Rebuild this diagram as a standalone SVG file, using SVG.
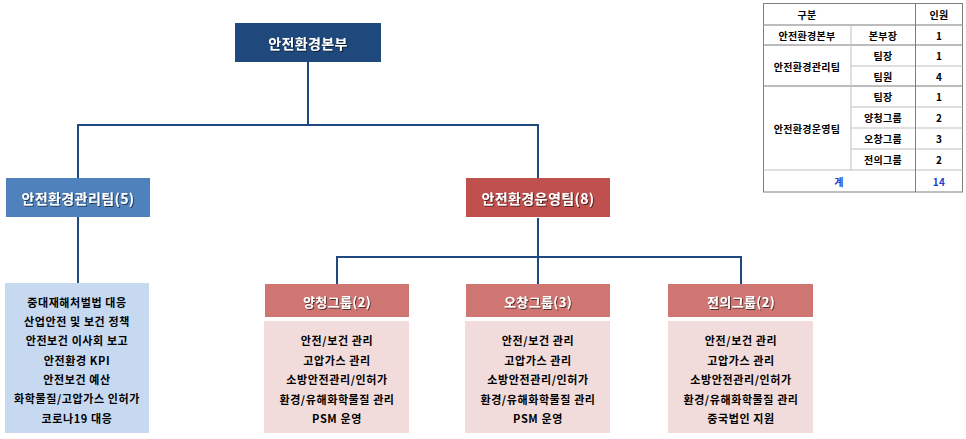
<svg xmlns="http://www.w3.org/2000/svg" width="966" height="439" viewBox="0 0 966 439">
<defs>
<filter id="sh" x="-10%" y="-30%" width="120%" height="160%">
<feDropShadow dx="1" dy="1" stdDeviation="0.4" flood-color="#000" flood-opacity="0.6"/>
</filter>
</defs>
<style>
text{font-family:"Noto Sans CJK KR","Malgun Gothic","Liberation Sans",sans-serif;font-weight:bold;text-anchor:middle;dominant-baseline:central}
.hd{fill:#fff;font-size:14px;letter-spacing:0.4px;filter:url(#sh)}
.gh{fill:#fff;font-size:13px;letter-spacing:0.4px;filter:url(#sh)}
.it{fill:#000;font-size:11px;letter-spacing:0.6px}
.tb{fill:#000;font-size:10px;letter-spacing:0.3px}
.blue{fill:#1F3FCC}
.con{stroke:#1F497D;stroke-width:2;fill:none}
.tl{stroke:#bfbfbf;stroke-width:1}
.tl2{stroke:#a6a6a6;stroke-width:1.5}
</style>
<rect width="966" height="439" fill="#fff"/>
<g id="connectors">
<path class="con" d="M308 62V125M78 125H538M78 124V178M538 124V178"/>
<path class="con" d="M78 217V283"/>
<path class="con" d="M538 218V284M337 257H741M337 256V284M741 256V284"/>
</g>
<g id="hq">
<rect x="235" y="23" width="146" height="39" fill="#1F497D"/>
<text class="hd" x="308" y="43">안전환경본부</text>
</g>
<g id="mgmt">
<rect x="6" y="178" width="144" height="39" fill="#4F81BD"/>
<text class="hd" x="78" y="198">안전환경관리팀(5)</text>
</g>
<g id="ops">
<rect x="466" y="178" width="144" height="39" fill="#C0504D"/>
<text class="hd" x="538" y="198">안전환경운영팀(8)</text>
</g>
<g id="mgmt-tasks">
<rect x="5" y="283" width="144" height="150" fill="#C6D9F1"/>
<text class="it" x="77" y="302">중대재해처벌법 대응</text>
<text class="it" x="77" y="321">산업안전 및 보건 정책</text>
<text class="it" x="77" y="340">안전보건 이사회 보고</text>
<text class="it" x="77" y="360">안전환경 KPI</text>
<text class="it" x="77" y="379">안전보건 예산</text>
<text class="it" x="77" y="398">화학물질/고압가스 인허가</text>
<text class="it" x="77" y="418">코로나19 대응</text>
</g>
<g id="yangcheong">
<rect x="265" y="284" width="144" height="33" fill="#CF7572"/>
<text class="gh" x="337" y="301">양청그룹(2)</text>
<rect x="264" y="321" width="145" height="112" fill="#F2DCDB"/>
<text class="it" x="337" y="340">안전/보건 관리</text>
<text class="it" x="337" y="359.5">고압가스 관리</text>
<text class="it" x="337" y="379">소방안전관리/인허가</text>
<text class="it" x="337" y="398.5">환경/유해화학물질 관리</text>
<text class="it" x="337" y="418">PSM 운영</text>
</g>
<g id="ochang">
<rect x="466" y="284" width="144" height="33" fill="#CF7572"/>
<text class="gh" x="538" y="301">오창그룹(3)</text>
<rect x="465" y="321" width="145" height="112" fill="#F2DCDB"/>
<text class="it" x="538" y="340">안전/보건 관리</text>
<text class="it" x="538" y="359.5">고압가스 관리</text>
<text class="it" x="538" y="379">소방안전관리/인허가</text>
<text class="it" x="538" y="398.5">환경/유해화학물질 관리</text>
<text class="it" x="538" y="418">PSM 운영</text>
</g>
<g id="jeonui">
<rect x="668" y="284" width="145" height="33" fill="#CF7572"/>
<text class="gh" x="741" y="301">전의그룹(2)</text>
<rect x="668" y="321" width="145" height="112" fill="#F2DCDB"/>
<text class="it" x="741" y="340">안전/보건 관리</text>
<text class="it" x="741" y="359.5">고압가스 관리</text>
<text class="it" x="741" y="379">소방안전관리/인허가</text>
<text class="it" x="741" y="398.5">환경/유해화학물질 관리</text>
<text class="it" x="741" y="418">중국법인 지원</text>
</g>
<g id="table">
<rect x="763.5" y="3.5" width="199" height="188.5" fill="#fff" stroke="#7f7f7f" stroke-width="1"/>
<line class="tl2" x1="763.5" y1="25" x2="962.5" y2="25"/>
<line class="tl2" x1="763.5" y1="45" x2="962.5" y2="45"/>
<line class="tl" x1="851" y1="66" x2="962.5" y2="66"/>
<line class="tl2" x1="763.5" y1="86" x2="962.5" y2="86"/>
<line class="tl" x1="851" y1="107" x2="962.5" y2="107"/>
<line class="tl" x1="851" y1="128" x2="962.5" y2="128"/>
<line class="tl" x1="851" y1="149" x2="962.5" y2="149"/>
<line class="tl" x1="763.5" y1="170" x2="962.5" y2="170"/>
<line class="tl" x1="851" y1="25" x2="851" y2="170"/>
<line stroke="#7f7f7f" stroke-width="1" x1="915.5" y1="3.5" x2="915.5" y2="192"/>
<text class="tb" x="807" y="14">구분</text>
<text class="tb" x="939" y="14">인원</text>
<text class="tb" x="807" y="35">안전환경본부</text>
<text class="tb" x="883" y="35">본부장</text>
<text class="tb" x="939" y="35">1</text>
<text class="tb" x="807" y="66">안전환경관리팀</text>
<text class="tb" x="883" y="55.5">팀장</text>
<text class="tb" x="939" y="55.5">1</text>
<text class="tb" x="883" y="76">팀원</text>
<text class="tb" x="939" y="76">4</text>
<text class="tb" x="807" y="128">안전환경운영팀</text>
<text class="tb" x="883" y="96.5">팀장</text>
<text class="tb" x="939" y="96.5">1</text>
<text class="tb" x="883" y="117.5">양청그룹</text>
<text class="tb" x="939" y="117.5">2</text>
<text class="tb" x="883" y="138.5">오창그룹</text>
<text class="tb" x="939" y="138.5">3</text>
<text class="tb" x="883" y="159.5">전의그룹</text>
<text class="tb" x="939" y="159.5">2</text>
<text class="tb blue" x="839" y="181">계</text>
<text class="tb blue" x="939" y="181">14</text>
</g>
</svg>
